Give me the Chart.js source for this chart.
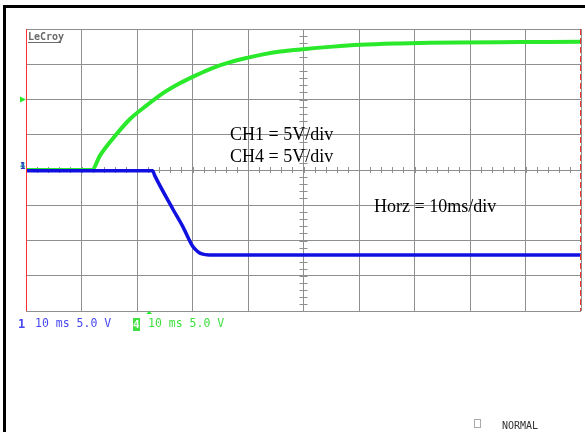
<!DOCTYPE html>
<html>
<head>
<meta charset="utf-8">
<script src="https://cdn.jsdelivr.net/npm/chart.js@4.4.1/dist/chart.umd.min.js"></script>
<style>
    html, body { margin: 0; padding: 0; background: #ffffff; }
    #wrap { position: relative; width: 585px; height: 432px; overflow: hidden; }
</style>
</head>
<body>
<div id="wrap"><canvas id="scope" width="585" height="432"></canvas></div>
<script>
// time in ms, voltage in V (5 V/div, 10 ms/div)
const ch1Time = [0, 22.8, 23.2, 26.5, 28.3, 30.1, 31.0, 31.7, 33.0, 100];
const ch1Volts = [-0.1, -0.1, -0.8, -5.6, -8.1, -10.9, -11.6, -11.9, -12.05, -12.05];

const ch4Time = [0, 11.9, 13.3, 15.7, 18.7, 21.8, 24.7, 27.7, 30.8, 33.7, 36.8, 39.8, 42.7, 45.8, 49.4, 55.3, 60.2, 67.4, 72.8, 78.2, 89.0, 100];
const ch4Volts = [0, 0, 2.0, 4.5, 7.2, 9.2, 10.9, 12.3, 13.5, 14.5, 15.3, 15.9, 16.4, 16.8, 17.1, 17.5, 17.75, 17.95, 18.05, 18.1, 18.15, 18.2];

const timeRange = [0, 100];
const voltRange = [-20, 20];
const timePerDiv = 10;
const voltsPerDiv = 5;

const annotations = ['CH1 = 5V/div', 'CH4 = 5V/div', 'Horz = 10ms/div'];
const statusText = ['1', '10 ms 5.0 V', '4', '10 ms 5.0 V', 'NORMAL'];

const colors = {
    ch1: '#1010e0',
    ch4: '#2ae82a',
    ch1Text: '#4848f0',
    ch4Text: '#40e040',
    grid: '#8f8f8f',
    edge: '#ff3030',
    frame: '#000000'
};

function toPoints(xs, ys) {
    return xs.map((x, i) => ({ x: x, y: ys[i] }));
}

const scopeDecor = {
    id: 'scopeDecor',
    beforeDraw(chart) {
        const ctx = chart.ctx;
        ctx.save();
        ctx.fillStyle = '#ffffff';
        ctx.fillRect(0, 0, chart.width, chart.height);
        ctx.fillStyle = colors.frame;
        ctx.fillRect(3, 5, chart.width - 3, 3);
        ctx.fillRect(3, 5, 3, chart.height - 5);
        ctx.restore();
    },
    beforeDatasetsDraw(chart) {
        const ctx = chart.ctx;
        const xs = chart.scales.x, ys = chart.scales.y;
        const a = chart.chartArea;
        const cx = xs.getPixelForValue(50), cy = ys.getPixelForValue(0);
        ctx.save();
        ctx.strokeStyle = colors.grid;
        ctx.lineWidth = 1;
        ctx.beginPath();
        for (let t = 0; t <= 100; t += 2) {
            const px = Math.round(xs.getPixelForValue(t)) + 0.5;
            ctx.moveTo(px, cy - 3);
            ctx.lineTo(px, cy + 3);
        }
        for (let v = -20; v <= 20; v += 1) {
            const py = Math.round(ys.getPixelForValue(v)) + 0.5;
            ctx.moveTo(cx - 4, py);
            ctx.lineTo(cx + 4, py);
        }
        ctx.stroke();

        // LeCroy logo
        ctx.fillStyle = '#6a6a6a';
        ctx.font = 'bold 10px "DejaVu Sans Mono"';
        ctx.textBaseline = 'alphabetic';
        ctx.fillText('LeCroy', a.left + 2, a.top + 11);
        ctx.fillRect(a.left + 2, a.top + 13, 33, 1);
        ctx.restore();
    },
    afterDraw(chart) {
        const ctx = chart.ctx;
        const xs = chart.scales.x, ys = chart.scales.y;
        const a = chart.chartArea;
        ctx.save();

        // screen edges
        ctx.strokeStyle = colors.edge;
        ctx.lineWidth = 1;
        ctx.beginPath();
        ctx.moveTo(a.left + 0.5, a.top);
        ctx.lineTo(a.left + 0.5, a.bottom);
        ctx.stroke();
        ctx.setLineDash([6, 3]);
        ctx.beginPath();
        ctx.moveTo(a.right - 0.5, a.top);
        ctx.lineTo(a.right - 0.5, a.bottom);
        ctx.stroke();
        ctx.setLineDash([]);

        // trigger level marker
        const trigY = ys.getPixelForValue(10);
        ctx.fillStyle = colors.ch4;
        ctx.beginPath();
        ctx.moveTo(a.left - 6, trigY - 3);
        ctx.lineTo(a.left, trigY);
        ctx.lineTo(a.left - 6, trigY + 3);
        ctx.closePath();
        ctx.fill();

        // trigger position marker
        const trigX = xs.getPixelForValue(22.2);
        ctx.beginPath();
        ctx.moveTo(trigX - 3, a.bottom + 3);
        ctx.lineTo(trigX, a.bottom);
        ctx.lineTo(trigX + 3, a.bottom + 3);
        ctx.closePath();
        ctx.fill();

        // channel offset markers
        const zeroY = ys.getPixelForValue(0);
        ctx.font = 'bold 9px "DejaVu Sans Mono"';
        ctx.textBaseline = 'alphabetic';
        ctx.fillStyle = '#20a0a0';
        ctx.fillText('4', a.left - 6, zeroY - 1);
        ctx.fillStyle = '#3030c0';
        ctx.fillText('1', a.left - 6, zeroY - 1);

        // scale annotations
        ctx.fillStyle = '#000000';
        ctx.font = '18px "Liberation Serif"';
        ctx.fillText(annotations[0], 230, 140);
        ctx.fillText(annotations[1], 230, 162);
        ctx.fillText(annotations[2], 374, 212);

        // status line
        ctx.fillStyle = colors.ch1Text;
        ctx.font = 'bold 12px "DejaVu Sans Mono"';
        ctx.fillText(statusText[0], 18, 328);
        ctx.font = '11.5px "DejaVu Sans Mono"';
        ctx.fillText(statusText[1], 35, 327);
        ctx.fillStyle = colors.ch4Text;
        ctx.fillRect(133, 318, 7, 13);
        ctx.fillStyle = '#ffffff';
        ctx.font = 'bold 11px "DejaVu Sans Mono"';
        ctx.fillText(statusText[2], 133, 328);
        ctx.fillStyle = colors.ch4Text;
        ctx.font = '11.5px "DejaVu Sans Mono"';
        ctx.fillText(statusText[3], 148, 327);

        ctx.strokeStyle = '#aaaaaa';
        ctx.strokeRect(474.5, 419.5, 6, 8);
        ctx.fillStyle = '#333333';
        ctx.font = '10px "DejaVu Sans Mono"';
        ctx.fillText(statusText[4], 502, 429);
        ctx.restore();
    }
};

const chart = new Chart(document.getElementById('scope').getContext('2d'), {
    type: 'scatter',
    data: {
        datasets: [
            {
                label: 'CH1',
                data: toPoints(ch1Time, ch1Volts),
                showLine: true,
                borderColor: colors.ch1,
                borderWidth: 3.5,
                pointRadius: 0,
                cubicInterpolationMode: 'monotone'
            },
            {
                label: 'CH4',
                data: toPoints(ch4Time, ch4Volts),
                showLine: true,
                borderColor: colors.ch4,
                borderWidth: 4,
                pointRadius: 0,
                cubicInterpolationMode: 'monotone'
            }
        ]
    },
    options: {
        responsive: false,
        animation: false,
        devicePixelRatio: 1,
        layout: { padding: { left: 26, right: 4, top: 29, bottom: 121 } },
        plugins: {
            legend: { display: false },
            tooltip: { enabled: false }
        },
        scales: {
            x: {
                type: 'linear',
                min: timeRange[0],
                max: timeRange[1],
                ticks: { display: false, stepSize: timePerDiv },
                grid: { color: colors.grid, drawTicks: false },
                border: { display: false }
            },
            y: {
                type: 'linear',
                min: voltRange[0],
                max: voltRange[1],
                ticks: { display: false, stepSize: voltsPerDiv },
                grid: { color: colors.grid, drawTicks: false },
                border: { display: false }
            }
        }
    },
    plugins: [scopeDecor]
});
</script>
</body>
</html>
